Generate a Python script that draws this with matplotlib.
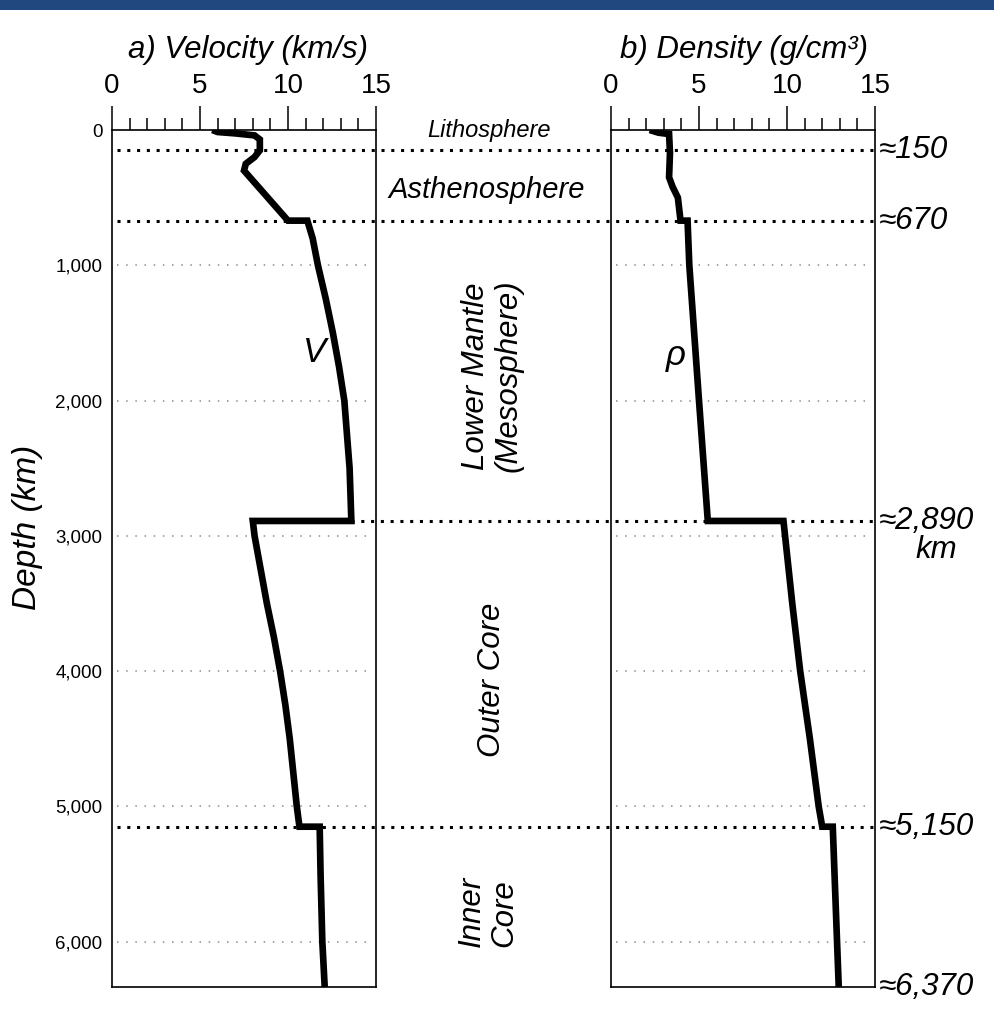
import numpy as np
import matplotlib
matplotlib.use('Agg')
from matplotlib import pyplot as plt
from matplotlib.ticker import MultipleLocator, FuncFormatter
from matplotlib.patches import Rectangle

FONT = ['Liberation Sans', 'DejaVu Sans']
plt.rcParams['font.family'] = FONT

#######################################################
# data

# a) velocity (km/s) against depth (km)
vel_depth = [0, 15, 25, 40, 70, 150, 200, 250, 300, 670, 670, 800, 1000, 1250,
             1500, 1750, 2000, 2250, 2500, 2890, 2890, 3000, 3250, 3500, 3750,
             4000, 4250, 4500, 4750, 5000, 5150, 5150, 5500, 6000, 6370]
vel = [5.7, 6.0, 7.0, 8.1, 8.4, 8.4, 8.1, 7.6, 7.5, 10.0, 11.1, 11.4, 11.7, 12.15,
       12.55, 12.9, 13.2, 13.35, 13.5, 13.6, 8.0, 8.1, 8.45, 8.8, 9.2,
       9.55, 9.85, 10.1, 10.3, 10.5, 10.65, 11.8, 11.85, 11.95, 12.1]

# b) density (g/cm3) against depth (km)
dens_depth = [0, 20, 30, 170, 350, 420, 500, 670, 670, 1000, 2000, 2890, 2890,
              3500, 4000, 4500, 5000, 5150, 5150, 6370]
dens = [2.2, 2.7, 3.3, 3.35, 3.3, 3.5, 3.8, 3.95, 4.35, 4.45, 5.0, 5.5, 9.8,
        10.3, 10.75, 11.3, 11.8, 12.0, 12.6, 12.95]

boundaries = [150, 670, 2890, 5150]
boundary_labels = ['\u2248150', '\u2248670', '\u22482,890', '\u22485,150']
earth_radius = 6370
depth_shown = 6335

depth_ticks = [0, 1000, 2000, 3000, 4000, 5000, 6000]
grid_depths = [1000, 2000, 3000, 4000, 5000, 6000]
x_ticks = [0, 5, 10, 15]

#######################################################

W, H = 994, 1018
BIG = 22.5


def fx(px):
    return px / W


def fy(py):
    return 1 - py / H


def style_axes(ax, show_depth_labels):
    ax.set_xlim(0, 15)
    ax.set_ylim(depth_shown, 0)
    ax.xaxis.tick_top()
    ax.set_xticks(x_ticks)
    ax.xaxis.set_minor_locator(MultipleLocator(1))
    ax.tick_params(axis='x', which='major', direction='out', length=17, width=1.1,
                   pad=5, labelsize=20)
    ax.tick_params(axis='x', which='minor', direction='out', length=9, width=1.1)
    ax.set_yticks(depth_ticks)
    if show_depth_labels:
        ax.yaxis.set_major_formatter(FuncFormatter(lambda v, p: '{:,}'.format(int(v))))
        ax.tick_params(axis='y', length=0, pad=7, labelsize=13.5)
    else:
        ax.tick_params(axis='y', length=0, labelleft=False)
    for s in ax.spines.values():
        s.set_linewidth(1.2)
    for d in grid_depths:
        ax.axhline(d, xmin=0.02, xmax=0.98, color='#8c8c8c', lw=1.1,
                   ls=(0, (1, 5)), zorder=1)


def main():

    fig = plt.figure(figsize=(W / 100, H / 100), dpi=100)

    # header bar
    fig.add_artist(Rectangle((0, fy(10)), 1, 10 / H, transform=fig.transFigure,
                             color='#22497f', lw=0))

    top, bot = 130, 987
    ax1 = fig.add_axes([fx(112), fy(bot), fx(376) - fx(112), (bot - top) / H])
    ax2 = fig.add_axes([fx(611), fy(bot), fx(875) - fx(611), (bot - top) / H])
    ax2.set_facecolor('none')

    style_axes(ax1, True)
    style_axes(ax2, False)

    ax1.plot(vel, vel_depth, color='k', lw=4.8, solid_joinstyle='miter',
             solid_capstyle='butt', zorder=3)
    ax2.plot(dens, dens_depth, color='k', lw=4.8, solid_joinstyle='miter',
             solid_capstyle='butt', zorder=3)

    # boundary lines run across both panels (drawn in ax1 data units)
    p1 = ax1.get_position()
    p2 = ax2.get_position()
    x_end = 15 * (p2.x1 - p1.x0) / p1.width
    for b in boundaries:
        if b == 2890:
            x0 = max(v for d, v in zip(vel_depth, vel) if d == b)
        else:
            x0 = 0.3
        ax1.plot([x0, x_end], [b, b], color='k', lw=2.2, ls=(0, (1, 2.2)),
                 clip_on=False, zorder=2)

    # right hand labels
    for b, lab in zip(boundaries, boundary_labels):
        ax2.annotate(lab, xy=(1, b), xycoords=('axes fraction', 'data'),
                     xytext=(3, 0), textcoords='offset points',
                     ha='left', va='center', fontsize=BIG, style='italic')
    ax2.annotate('km', xy=(1, 2890), xycoords=('axes fraction', 'data'),
                 xytext=(44, -21), textcoords='offset points',
                 ha='center', va='center', fontsize=BIG, style='italic')
    ax2.annotate('\u2248' + '{:,}'.format(earth_radius), xy=(1, depth_shown),
                 xycoords=('axes fraction', 'data'), xytext=(3, 0),
                 textcoords='offset points', ha='left', va='center',
                 fontsize=BIG, style='italic')

    # titles
    fig.text(fx(248), fy(50), 'a) Velocity (km/s)', ha='center', va='center',
             fontsize=BIG, style='italic')
    fig.text(fx(744), fy(50), 'b) Density (g/cm\u00b3)', ha='center', va='center',
             fontsize=BIG, style='italic')
    fig.text(fx(28), fy(527), 'Depth (km)', rotation=90, ha='center',
             va='center', fontsize=24, style='italic')

    # layer names
    fig.text(fx(489), fy(131), 'Lithosphere', ha='center', va='center',
             fontsize=17, style='italic')
    fig.text(fx(487), fy(190), 'Asthenosphere', ha='center', va='center',
             fontsize=21, style='italic')
    fig.text(fx(492), fy(376), 'Lower Mantle\n(Mesosphere)', rotation=90,
             ha='center', va='center', fontsize=BIG, style='italic',
             linespacing=1.1)
    fig.text(fx(492), fy(680), 'Outer Core', rotation=90, ha='center',
             va='center', fontsize=BIG, style='italic')
    fig.text(fx(488), fy(911), 'Inner\nCore', rotation=90, ha='center',
             va='center', fontsize=BIG, style='italic', multialignment='left',
             linespacing=1.1)

    # curve labels
    fig.text(fx(315), fy(352), 'V', ha='center', va='center', fontsize=25,
             style='italic')
    fig.text(fx(676), fy(356), '\u03c1', ha='center', va='center', fontsize=25,
             style='italic')

    fig.savefig('out.png', dpi=100)


if __name__ == '__main__':
    main()
